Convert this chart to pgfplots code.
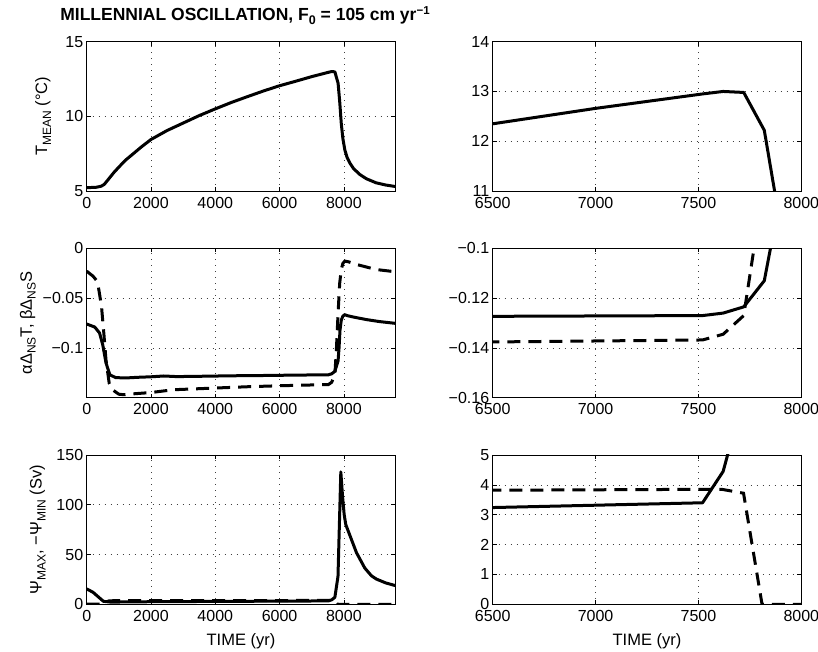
\documentclass[border=0pt]{standalone}
\usepackage{fontspec}
\setmainfont{Liberation Sans}
\usepackage{pgfplots}
\pgfplotsset{compat=1.18}
\usepackage{pgfplotstable}

\pgfplotstableread{
x y
0 5.22
300 5.25
450 5.32
550 5.45
700 5.85
850 6.25
1000 6.6
1200 7.05
1450 7.5
1700 7.95
2000 8.45
2500 9.05
3000 9.55
3500 10.05
4000 10.5
4500 10.93
5000 11.32
5500 11.7
6000 12.05
6500 12.35
7000 12.66
7520 12.95
7620 13.0
7720 12.98
7820 12.22
7870 11.0
7920 9.5
7970 8.5
8030 7.75
8100 7.25
8185 6.88
8300 6.5
8500 6.1
8700 5.82
9000 5.55
9300 5.4
9600 5.3
}\Tmean

\pgfplotstableread{
x y
0 -0.076
250 -0.079
400 -0.085
500 -0.097
600 -0.115
720 -0.127
900 -0.1298
1200 -0.1302
1600 -0.1295
2000 -0.129
2400 -0.1282
2800 -0.1288
3500 -0.1285
4500 -0.128
5500 -0.1277
6500 -0.1273
7520 -0.1270
7620 -0.126
7720 -0.1235
7820 -0.113
7850 -0.100
7880 -0.082
7920 -0.072
7970 -0.068
8030 -0.0666
8100 -0.0675
8300 -0.069
8700 -0.0715
9100 -0.0735
9600 -0.0753
}\aT

\pgfplotstableread{
x y
0 -0.0229
200 -0.028
300 -0.032
360 -0.038
460 -0.058
540 -0.088
600 -0.112
700 -0.1355
800 -0.142
1000 -0.1465
1150 -0.147
1500 -0.146
2000 -0.1448
2700 -0.142
4000 -0.1403
5000 -0.139
6000 -0.138
6500 -0.1376
7520 -0.1368
7620 -0.1345
7720 -0.1270
7770 -0.100
7820 -0.065
7870 -0.035
7920 -0.021
7970 -0.015
8030 -0.0128
8150 -0.0135
8400 -0.0162
9000 -0.0212
9600 -0.0235
}\bS

\pgfplotstableread{
x y
0 15.5
200 12.0
360 7.5
520 3.0
720 2.3
1000 2.3
2000 2.6
4000 2.9
6500 3.24
7520 3.40
7620 4.45
7720 7.0
7817 28
7905 133
7960 108
8010 90
8060 80
8237 65
8393 51.8
8651 36.4
8859 28.6
9015 25.3
9300 21.5
9600 18.8
}\PsiMax

\pgfplotstableread{
x y
0 0.3
400 0.3
550 1.5
700 3.5
1000 3.7
3000 3.75
6500 3.82
7510 3.85
7614 3.85
7719 3.72
7809 0
9600 0
}\PsiMin

\newcommand{\sub}[1]{\raisebox{-0.45ex}{\fontsize{12}{12}\selectfont #1}}

\pgfplotsset{
  mystyle/.style={
    scale only axis, width=308.6pt, height=149.3pt,
    anchor=south west,
    axis line style={black, line width=0.8pt},
    tick align=inside,
    major tick length=4pt,
    tick style={black, line width=0.6pt},
    grid=major,
    major grid style={black!75, line width=0.6pt, dash pattern=on 0.6pt off 5.4pt},
    ticklabel style={font=\fontsize{16}{19}\selectfont},
    xticklabel style={yshift=-2.5pt},
    label style={font=\fontsize{16.5}{19}\selectfont},
    scaled ticks=false,
  },
  leftx/.style={xmin=0, xmax=9600, xtick={0,2000,4000,6000,8000}, xticklabels={0,2000,4000,6000,8000}},
  rightx/.style={xmin=6500, xmax=8000, xtick={6500,7000,7500,8000}, xticklabels={6500,7000,7500,8000}},
  solidline/.style={black, line width=3pt, line join=round},
  dashedline/.style={black, line width=3pt, dash pattern=on 13pt off 8pt},
}

\begin{document}
\begin{tikzpicture}
\path[use as bounding box] (0,0) rectangle (818pt,652pt);

\node[anchor=base, font=\bfseries\fontsize{17.5}{20}\selectfont] at (245pt,631pt)
  {MILLENNIAL OSCILLATION, F\raisebox{-0.4ex}{\fontsize{12.5}{12}\selectfont 0} = 105 cm yr\raisebox{0.75ex}{\fontsize{11.5}{11}\selectfont −1}};

% Row 1 left
\begin{axis}[mystyle, leftx, at={(86.7pt,461pt)},
  ymin=5, ymax=15, ytick={5,10,15}, yticklabels={5,10,15},
  ylabel={T\sub{MEAN} (°C)},
  ylabel style={at={(axis description cs:-0.128,0.5)}, anchor=base}]
\addplot[solidline] table[x=x,y=y]{\Tmean};
\end{axis}

% Row 1 right
\begin{axis}[mystyle, rightx, at={(492.7pt,461pt)},
  ymin=11, ymax=14, ytick={11,12,13,14}, yticklabels={11,12,13,14}]
\addplot[solidline] table[x=x,y=y]{\Tmean};
\end{axis}

% Row 2 left
\begin{axis}[mystyle, leftx, at={(86.7pt,254.3pt)},
  ymin=-0.15, ymax=0, ytick={-0.1,-0.05,0}, yticklabels={−0.1,−0.05,0},
  ylabel={αΔ\sub{NS}T, βΔ\sub{NS}S},
  ylabel style={at={(axis description cs:-0.178,0.5)}, anchor=base}]
\addplot[solidline] table[x=x,y=y]{\aT};
\addplot[dashedline] table[x=x,y=y]{\bS};
\end{axis}

% Row 2 right
\begin{axis}[mystyle, rightx, at={(492.7pt,254.3pt)},
  ymin=-0.16, ymax=-0.1, ytick={-0.16,-0.14,-0.12,-0.1}, yticklabels={−0.16,−0.14,−0.12,−0.1}]
\addplot[solidline] table[x=x,y=y]{\aT};
\addplot[dashedline] table[x=x,y=y]{\bS};
\end{axis}

% Row 3 left
\begin{axis}[mystyle, leftx, at={(86.7pt,47.7pt)},
  ymin=0, ymax=150, ytick={0,50,100,150}, yticklabels={0,50,100,150},
  ylabel={Ψ\sub{MAX}, −Ψ\sub{MIN} (Sv)},
  ylabel style={at={(axis description cs:-0.146,0.5)}, anchor=base},
  xlabel={TIME (yr)},
  xlabel style={at={(axis description cs:0.5,-0.273)}, anchor=base}]
\addplot[solidline] table[x=x,y=y]{\PsiMax};
\addplot[dashedline] table[x=x,y=y]{\PsiMin};
\end{axis}

% Row 3 right
\begin{axis}[mystyle, rightx, at={(492.7pt,47.7pt)},
  ymin=0, ymax=5, ytick={0,1,2,3,4,5}, yticklabels={0,1,2,3,4,5},
  xlabel={TIME (yr)},
  xlabel style={at={(axis description cs:0.5,-0.273)}, anchor=base}]
\addplot[solidline] table[x=x,y=y]{\PsiMax};
\addplot[dashedline] table[x=x,y=y]{\PsiMin};
\end{axis}
\end{tikzpicture}
\end{document}
